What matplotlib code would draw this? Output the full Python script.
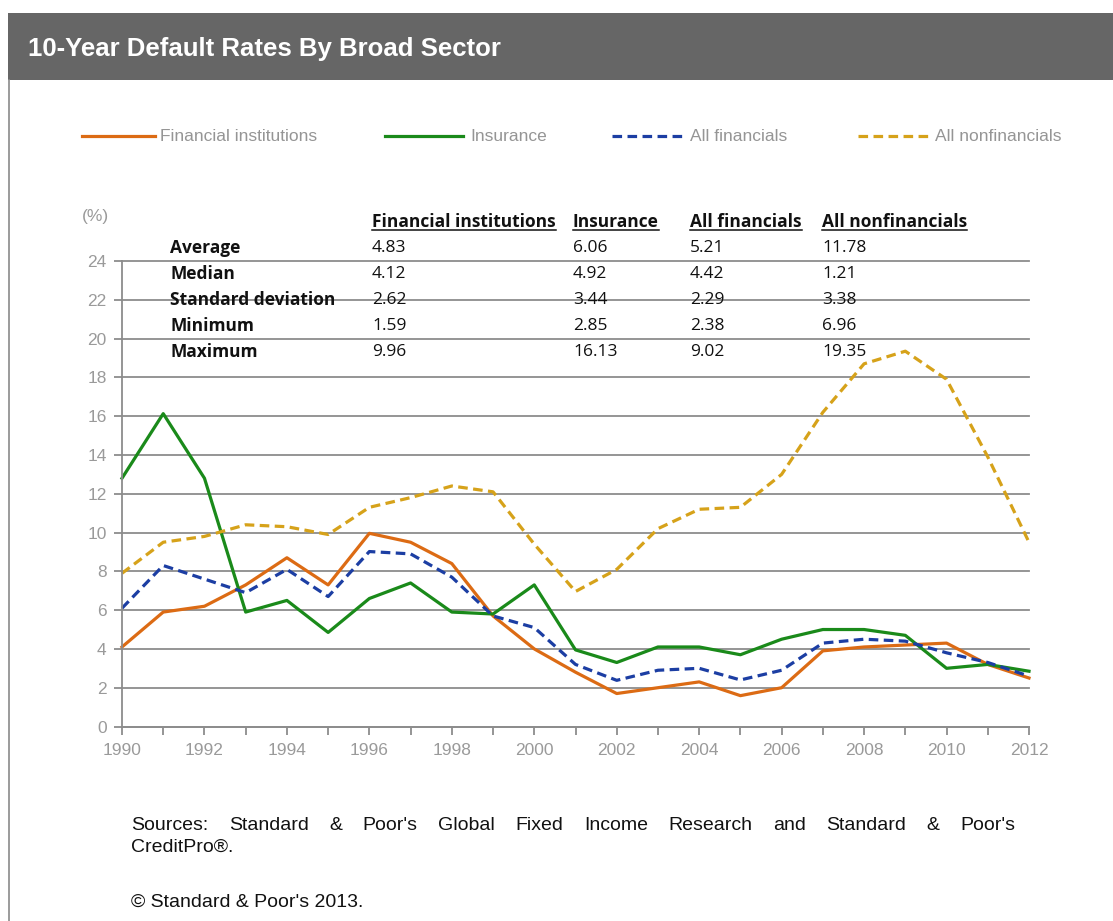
import matplotlib
matplotlib.use("Agg")
import matplotlib.pyplot as plt
from matplotlib.patches import Rectangle
from matplotlib.lines import Line2D

# ---- data ----
years = list(range(1990, 2013))
fin_inst = [4.1, 5.9, 6.2, 7.3, 8.7, 7.3, 9.96, 9.5, 8.4, 5.7, 4.0, 2.8,
            1.7, 2.0, 2.3, 1.59, 2.0, 3.9, 4.1, 4.2, 4.3, 3.2, 2.5]
insurance = [12.8, 16.13, 12.8, 5.9, 6.5, 4.85, 6.6, 7.4, 5.9, 5.8, 7.3, 3.95,
             3.3, 4.1, 4.1, 3.7, 4.5, 5.0, 5.0, 4.7, 3.0, 3.2, 2.85]
all_fin = [6.1, 8.3, 7.6, 6.9, 8.1, 6.7, 9.02, 8.9, 7.7, 5.7, 5.1, 3.2,
           2.38, 2.9, 3.0, 2.4, 2.9, 4.3, 4.5, 4.4, 3.8, 3.3, 2.6]
all_nonfin = [7.9, 9.5, 9.8, 10.4, 10.3, 9.9, 11.3, 11.8, 12.4, 12.1, 9.4, 6.96,
              8.1, 10.2, 11.2, 11.3, 13.0, 16.2, 18.7, 19.35, 17.9, 13.9, 9.5]

series_names = ["Financial institutions", "Insurance", "All financials",
                "All nonfinancials"]
stat_names = ["Average", "Median", "Standard deviation", "Minimum", "Maximum"]
stats_fin_inst = ["4.83", "4.12", "2.62", "1.59", "9.96"]
stats_insurance = ["6.06", "4.92", "3.44", "2.85", "16.13"]
stats_all_fin = ["5.21", "4.42", "2.29", "2.38", "9.02"]
stats_all_nonfin = ["11.78", "1.21", "3.38", "6.96", "19.35"]

title = "10-Year Default Rates By Broad Sector"
source_line1 = "Sources: Standard & Poor's Global Fixed Income Research and Standard & Poor's"
source_line2 = "CreditPro\u00ae."
copyright_line = "\u00a9 Standard & Poor's 2013."

# ---- figure ----
W, H = 1113, 921
fig = plt.figure(figsize=(W / 100, H / 100), dpi=100)


def fx(px):
    return px / W


def fy(py):
    return 1 - py / H


# title bar and frame
fig.add_artist(Rectangle((fx(8), fy(80)), fx(W - 8), 67 / H,
                         transform=fig.transFigure, facecolor="#666666",
                         edgecolor="none"))
fig.add_artist(Line2D([fx(8.5), fx(8.5)], [fy(80), 0], transform=fig.transFigure,
                      color="#8a8a8a", lw=1.2))
fig.text(fx(28), fy(49), title, color="white", fontsize=18.5, fontweight="bold",
         family="Liberation Sans", va="center", ha="left")

# plot
ax = fig.add_axes([fx(122), fy(726.5), fx(1029 - 122), (726.5 - 261) / H])
orange, green, blue, gold = "#DC6B14", "#1A8A1A", "#1C3EA3", "#D6A21A"
colors = [orange, green, blue, gold]
styles = ["-", "-", (0, (3, 1.7)), (0, (3, 1.7))]
for vals, name, c, ls in zip([fin_inst, insurance, all_fin, all_nonfin],
                             series_names, colors, styles):
    ax.plot(years, vals, color=c, lw=2.3, ls=ls, label=name, clip_on=False)

ax.set_xlim(1990, 2012)
ax.set_ylim(0, 24)
ax.set_yticks(range(0, 25, 2))
ax.set_xticks(years[::2])
ax.set_xticks(years[1::2], minor=True)
ax.yaxis.grid(True, color="#8c8c8c", lw=1.3)
ax.set_axisbelow(True)
for gl in ax.get_ygridlines():
    gl.set_clip_on(False)
for s in ["top", "right"]:
    ax.spines[s].set_visible(False)
for s in ["left", "bottom"]:
    ax.spines[s].set_color("#8c8c8c")
    ax.spines[s].set_linewidth(1.3)
ax.tick_params(axis="both", which="both", direction="out", length=6, width=1.3,
               color="#8c8c8c", labelcolor="#9a9a9a", labelsize=12.5)
ax.tick_params(axis="x", pad=6)
ax.tick_params(axis="y", pad=5)
for lab in ax.get_xticklabels() + ax.get_yticklabels():
    lab.set_family("Liberation Sans")
fig.text(fx(82), fy(216), "(%)", color="#9a9a9a", fontsize=12.5,
         family="Liberation Sans", va="center", ha="left")

# legend (placed by hand to follow the reference spacing)
leg_lines = [(82, 155), (385, 463), (612, 685), (858, 930)]
leg_text_x = [160, 470, 690, 935]
for name, c, ls, (x0, x1), tx in zip(series_names, colors, styles, leg_lines,
                                     leg_text_x):
    fig.add_artist(Line2D([fx(x0), fx(x1)], [fy(136), fy(136)],
                          transform=fig.transFigure, color=c, lw=2.3, ls=ls))
    fig.text(fx(tx), fy(136), name, color="#959595", fontsize=12.5,
             family="Liberation Sans", va="center", ha="left")

# stats table
col_x = [372, 573, 690, 822]
row_y = [248 + 26 * i for i in range(len(stat_names))]
table_font = {"family": "Open Sans", "size": 12.5, "color": "#111111"}
headers = []
for name, x in zip(series_names, col_x):
    headers.append(fig.text(fx(x), fy(222), name, fontweight="bold", va="center",
                            ha="left", **table_font))
for name, y in zip(stat_names, row_y):
    fig.text(fx(170), fy(y), name, fontweight="bold", va="center", ha="left",
             **table_font)
for col, x in zip([stats_fin_inst, stats_insurance, stats_all_fin, stats_all_nonfin],
                  col_x):
    for val, y in zip(col, row_y):
        fig.text(fx(x), fy(y), val, va="center", ha="left", **table_font)

# footer texts
foot_font = {"family": "Liberation Sans", "size": 14, "color": "#111111"}
fig.canvas.draw()
renderer = fig.canvas.get_renderer()

# underline headers
for t in headers:
    bb = t.get_window_extent(renderer)
    yline = (bb.y0 + 1) / H
    fig.add_artist(Line2D([bb.x0 / W, bb.x1 / W], [yline, yline],
                          transform=fig.transFigure, color="#111111", lw=1.1))

# justified first source line
words = source_line1.split(" ")
x_left, x_right = 131, 1015
widths = []
for w in words:
    t = fig.text(0, 0, w, **foot_font)
    widths.append(t.get_window_extent(renderer).width)
    t.remove()
gap = (x_right - x_left - sum(widths)) / (len(words) - 1)
x = x_left
for w, wd in zip(words, widths):
    fig.text(fx(x), fy(825), w, va="center", ha="left", **foot_font)
    x += wd + gap
fig.text(fx(131), fy(847), source_line2, va="center", ha="left", **foot_font)
fig.text(fx(131), fy(902), copyright_line, va="center", ha="left", **foot_font)

fig.savefig("out.png", dpi=100)
